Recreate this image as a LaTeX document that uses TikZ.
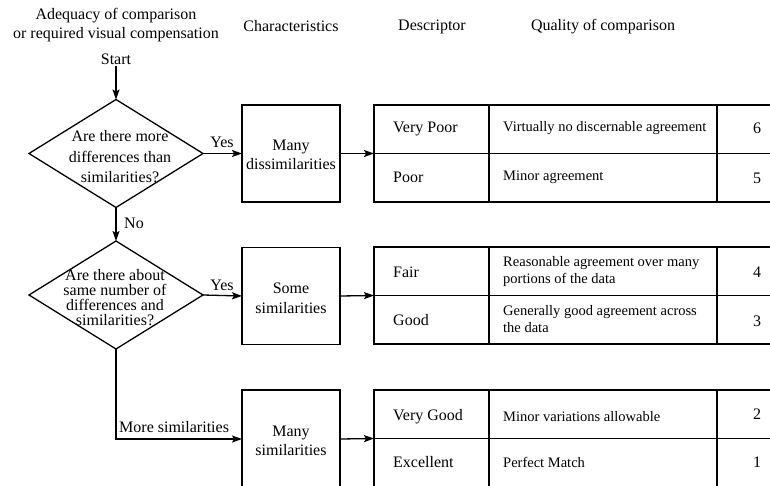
\documentclass[tikz,border=0pt]{standalone}
\usepackage{fontspec}
\setmainfont{Liberation Serif}
\usetikzlibrary{shapes.geometric,arrows.meta}
\begin{document}
\begin{tikzpicture}[x=1pt,y=-1pt,
  big/.style={font=\fontsize{16}{19}\selectfont, inner sep=1pt},
  small/.style={font=\fontsize{14.5}{18}\selectfont, inner sep=0pt},
  ln/.style={line width=1.3pt},
  arr/.style={ln, -{Stealth[length=10pt,width=7pt,inset=2pt]}},
  dia/.style={draw, ln, diamond, minimum width=174pt, minimum height=108pt, inner sep=0pt, outer sep=0pt},
  box/.style={draw, ln, rectangle, minimum width=98pt, minimum height=97pt, inner sep=0pt, outer sep=0pt},
  cell/.style={draw, ln, rectangle, anchor=north west, inner sep=0pt, outer sep=0pt}
]
\clip (0,0) rectangle (770,486);

% headers
\node[big, align=center, anchor=base, font=\fontsize{16}{18.5}\selectfont] (h1) at (116,38.5) {Adequacy of comparison\\or required visual compensation};
\node[big, anchor=base] (h2) at (291,31.5) {Characteristics};
\node[big, anchor=base] (h3) at (432,31) {Descriptor};
\node[big, anchor=base] (h4) at (603,31) {Quality of comparison};
\node[big, anchor=base] (start) at (116,65) {Start};

% decisions
\node[dia] (d1) at (116,153.5) {};
\node[big, align=center, font=\fontsize{16}{20.5}\selectfont] (d1t) at (120,157) {Are there more\\differences than\\similarities?};
\node[dia] (d2) at (116,295) {};
\node[big, align=center, font=\fontsize{16}{15}\selectfont] (d2t) at (115,298) {Are there about\\same number of\\differences and\\similarities?};

% characteristic boxes
\node[box] (b1) at (291,153.5) {};
\node[big, align=center, font=\fontsize{16}{18.5}\selectfont] (b1t) at (291,155) {Many\\dissimilarities};
\node[box] (b2) at (291,296) {};
\node[big, align=center, font=\fontsize{16}{20}\selectfont] (b2t) at (291,298) {Some\\similarities};
\node[box, minimum height=98pt] (b3) at (291,439) {};
\node[big, align=center, font=\fontsize{16}{18.5}\selectfont] (b3t) at (291,441) {Many\\similarities};

% tables
\foreach \t/\y in {1/105,2/247,3/390} {
  \foreach \r in {1,2} {
    \node[cell, minimum width=115pt, minimum height=48.5pt] (t\t r\r c1) at (374,{\y+48.5*(\r-1)}) {};
    \node[cell, minimum width=228pt, minimum height=48.5pt] (t\t r\r c2) at (489,{\y+48.5*(\r-1)}) {};
    \node[cell, minimum width=80pt, minimum height=48.5pt] (t\t r\r c3) at (717,{\y+48.5*(\r-1)}) {};
  }
}

% table texts
\node[big, anchor=base west, inner sep=0pt] (l6) at (393,133) {Very Poor};
\node[big, anchor=base west, inner sep=0pt] (l5) at (393,183) {Poor};
\node[big, anchor=base west, inner sep=0pt] (l4) at (393,277) {Fair};
\node[big, anchor=base west, inner sep=0pt] (l3) at (393,325) {Good};
\node[big, anchor=base west, inner sep=0pt] (l2) at (393,420) {Very Good};
\node[big, anchor=base west, inner sep=0pt] (l1) at (393,467) {Excellent};

\node[small, anchor=base west] (q6) at (503,132) {Virtually no discernable agreement};
\node[small, anchor=base west] (q5) at (503,181) {Minor agreement};
\node[small, anchor=base west, align=left, font=\fontsize{14.5}{17}\selectfont] (q4) at (503,283) {Reasonable agreement over many\\portions of the data};
\node[small, anchor=base west, align=left, font=\fontsize{14.5}{17}\selectfont] (q3) at (503,332) {Generally good agreement across\\the data};
\node[small, anchor=base west] (q2) at (503,421) {Minor variations allowable};
\node[small, anchor=base west] (q1) at (503,467) {Perfect Match};

\node[big, anchor=base, inner sep=0pt] (n6) at (757,134) {6};
\node[big, anchor=base, inner sep=0pt] (n5) at (757,184) {5};
\node[big, anchor=base, inner sep=0pt] (n4) at (757,277) {4};
\node[big, anchor=base, inner sep=0pt] (n3) at (757,326) {3};
\node[big, anchor=base, inner sep=0pt] (n2) at (757,419) {2};
\node[big, anchor=base, inner sep=0pt] (n1) at (757,467) {1};

% connectors
\draw[arr] (start.south) -- (d1.north);
\draw[arr] (d1.east) -- (b1.west);
\draw[arr] (b1.east) -- (t1r1c1.south west);
\draw[arr] (d1.south) -- (d2.north);
\draw[arr] (d2.east) -- (b2.west);
\draw[arr] (b2.east) -- (t2r1c1.south west);
\draw[arr] (d2.south) |- (b3.west);
\draw[arr] (b3.east) -- (t3r1c1.south west);

% connector labels
\node[big, anchor=base, inner sep=0pt] (yes1) at (222,148) {Yes};
\node[big, anchor=base, inner sep=0pt] (yes2) at (222,290) {Yes};
\node[big, anchor=base west, inner sep=0pt] (no) at (124,229) {No};
\node[big, anchor=base west, inner sep=0pt] (more) at (119,432) {More similarities};
\end{tikzpicture}
\end{document}
